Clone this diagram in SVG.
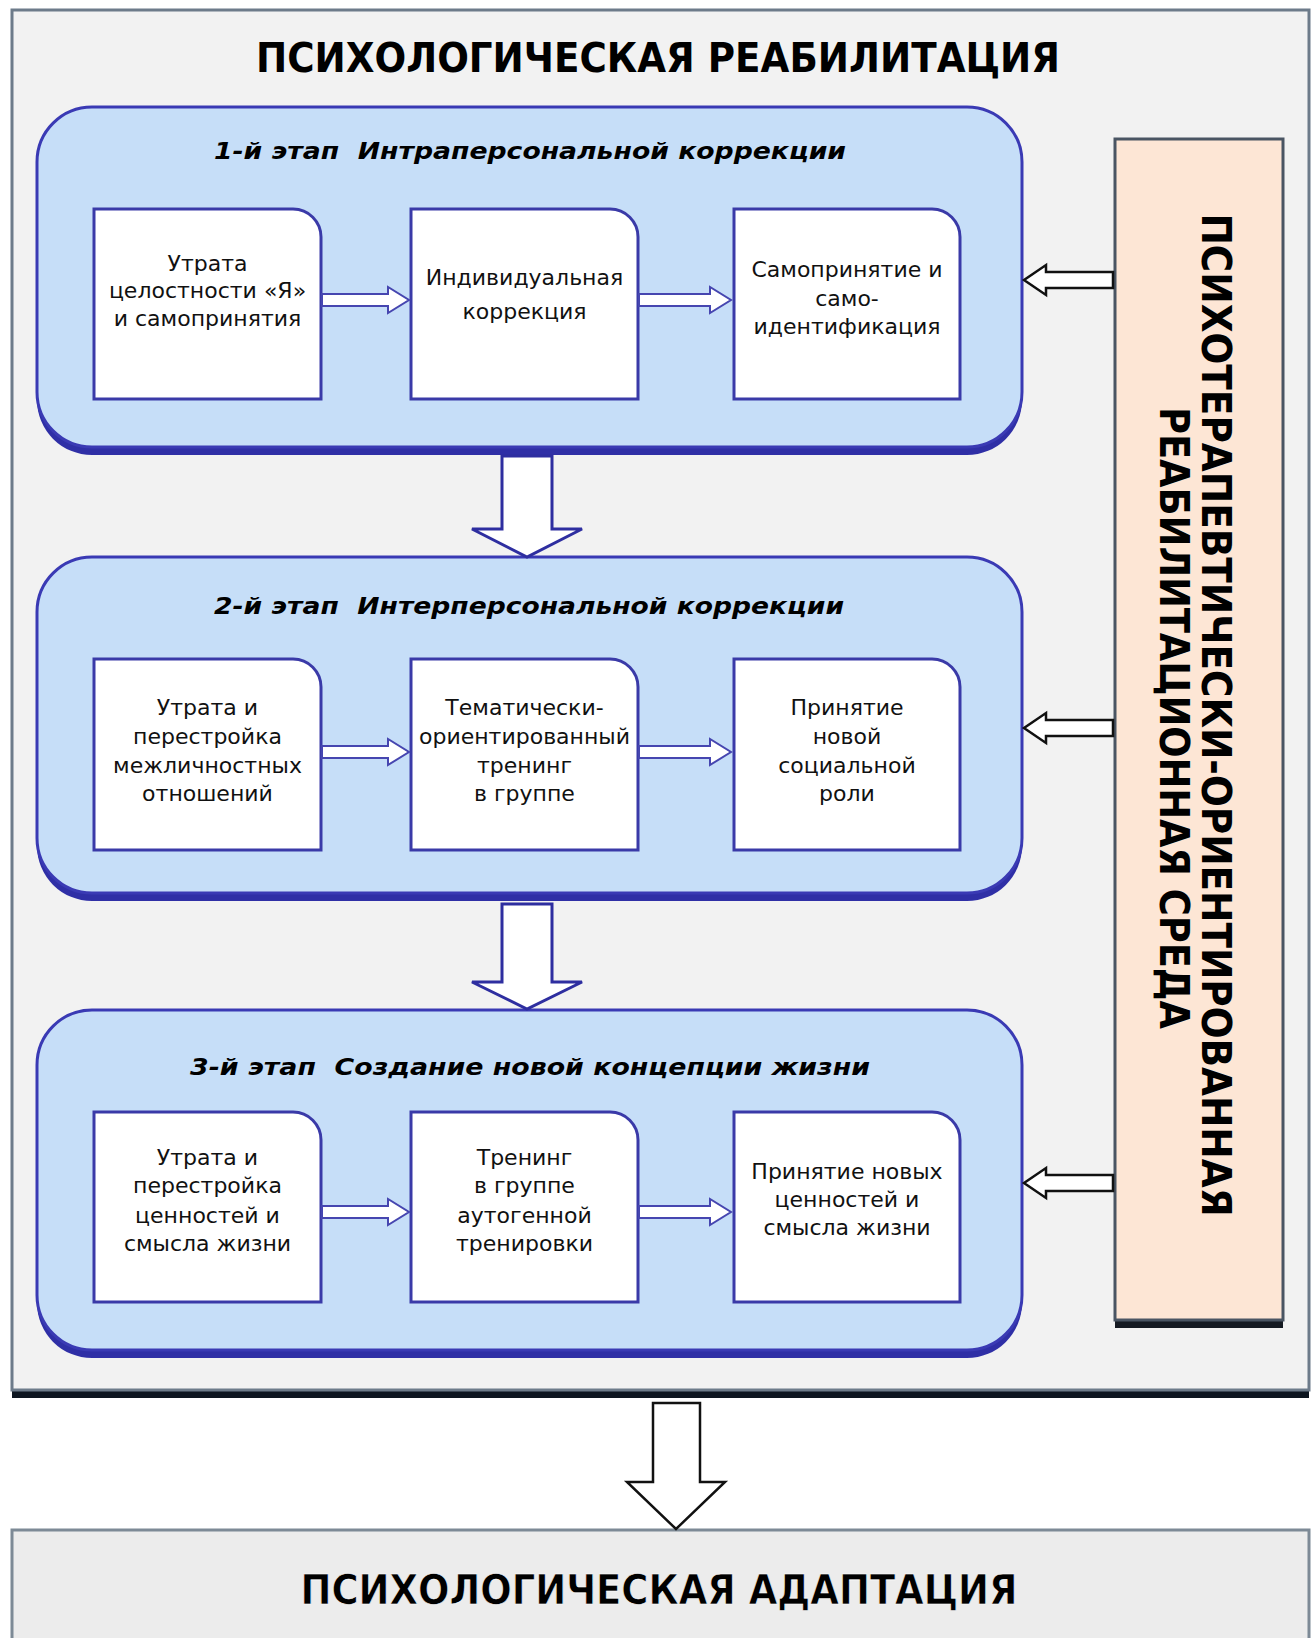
<svg xmlns="http://www.w3.org/2000/svg" width="1314" height="1638" viewBox="0 0 1314 1638">
<defs>
<style>
.frame{fill:#f2f2f2;stroke:#6d7b8a;stroke-width:3}
.fshadow{fill:#0d1520}
.panel{fill:#c6def8;stroke:#3a3ab4;stroke-width:3}
.pshadow{fill:#2f2fa6}
.box{fill:#ffffff;stroke:#3a3aa8;stroke-width:3}
.sarrow{fill:#ffffff;stroke:#4646b0;stroke-width:2;stroke-linejoin:miter}
.barrow{fill:#ffffff;stroke:#2e2ea0;stroke-width:3;stroke-linejoin:miter}
.karrow{fill:#ffffff;stroke:#111111;stroke-width:2.5;stroke-linejoin:miter}
.side{fill:#fde6d5;stroke:#4a5563;stroke-width:3}
.big{font-family:"DejaVu Sans","Liberation Sans",sans-serif;font-weight:bold;font-size:40px;fill:#000;text-anchor:middle}
.stage{font-family:"DejaVu Sans","Liberation Sans",sans-serif;font-weight:bold;font-style:italic;font-size:23px;fill:#000;text-anchor:middle}
.t{font-family:"DejaVu Sans","Liberation Sans",sans-serif;font-size:22px;fill:#111;text-anchor:middle}
</style>
</defs>
<rect width="1314" height="1638" fill="#ffffff"/>

<g id="frame">
<rect class="fshadow" x="12" y="18" width="1297" height="1380"/>
<rect class="frame" x="12" y="10" width="1297" height="1380"/>
<text class="big" x="658" y="72" textLength="804" lengthAdjust="spacingAndGlyphs">ПСИХОЛОГИЧЕСКАЯ РЕАБИЛИТАЦИЯ</text>
</g>

<g id="side-panel">
<rect x="1115" y="147" width="168" height="1181" fill="#151a22"/>
<rect class="side" x="1115" y="139" width="168" height="1181"/>
<text class="big" transform="translate(1202,715) rotate(90)" x="0" y="0" textLength="1003" lengthAdjust="spacingAndGlyphs">ПСИХОТЕРАПЕВТИЧЕСКИ-ОРИЕНТИРОВАННАЯ</text>
<text class="big" transform="translate(1160,718) rotate(90)" x="0" y="0" textLength="622" lengthAdjust="spacingAndGlyphs">РЕАБИЛИТАЦИОННАЯ СРЕДА</text>
</g>

<g id="stage1">
<rect class="pshadow" x="37" y="115" width="985" height="340" rx="55" ry="55"/>
<rect class="panel" x="37" y="107" width="985" height="340" rx="55" ry="55"/>
<text class="stage" x="530" y="159" xml:space="preserve" textLength="632" lengthAdjust="spacingAndGlyphs">1-й этап  Интраперсональной коррекции</text>
</g>
<g id="s1-box1">
<path class="box" d="M94,209 H293 A28,28 0 0 1 321,237 V399 H94 Z"/>
<text class="t" x="207.5" y="271">Утрата</text>
<text class="t" x="207.5" y="298">целостности «Я»</text>
<text class="t" x="207.5" y="326">и самопринятия</text>
</g>
<g id="s1-box2">
<path class="box" d="M411,209 H610 A28,28 0 0 1 638,237 V399 H411 Z"/>
<text class="t" x="524.5" y="285">Индивидуальная</text>
<text class="t" x="524.5" y="319">коррекция</text>
</g>
<g id="s1-box3">
<path class="box" d="M734,209 H932 A28,28 0 0 1 960,237 V399 H734 Z"/>
<text class="t" x="847" y="277">Самопринятие и</text>
<text class="t" x="847" y="306">само-</text>
<text class="t" x="847" y="334">идентификация</text>
</g>

<g id="stage2">
<rect class="pshadow" x="37" y="565" width="985" height="336" rx="55" ry="55"/>
<rect class="panel" x="37" y="557" width="985" height="336" rx="55" ry="55"/>
<text class="stage" x="529" y="614" xml:space="preserve" textLength="630" lengthAdjust="spacingAndGlyphs">2-й этап  Интерперсональной коррекции</text>
</g>
<g id="s2-box1">
<path class="box" d="M94,659 H293 A28,28 0 0 1 321,687 V850 H94 Z"/>
<text class="t" x="207.5" y="715">Утрата и</text>
<text class="t" x="207.5" y="744">перестройка</text>
<text class="t" x="207.5" y="773">межличностных</text>
<text class="t" x="207.5" y="801">отношений</text>
</g>
<g id="s2-box2">
<path class="box" d="M411,659 H610 A28,28 0 0 1 638,687 V850 H411 Z"/>
<text class="t" x="524.5" y="715">Тематически-</text>
<text class="t" x="524.5" y="744">ориентированный</text>
<text class="t" x="524.5" y="773">тренинг</text>
<text class="t" x="524.5" y="801">в группе</text>
</g>
<g id="s2-box3">
<path class="box" d="M734,659 H932 A28,28 0 0 1 960,687 V850 H734 Z"/>
<text class="t" x="847" y="715">Принятие</text>
<text class="t" x="847" y="744">новой</text>
<text class="t" x="847" y="773">социальной</text>
<text class="t" x="847" y="801">роли</text>
</g>

<g id="stage3">
<rect class="pshadow" x="37" y="1018" width="985" height="340" rx="55" ry="55"/>
<rect class="panel" x="37" y="1010" width="985" height="340" rx="55" ry="55"/>
<text class="stage" x="530" y="1075" xml:space="preserve" textLength="680" lengthAdjust="spacingAndGlyphs">3-й этап  Создание новой концепции жизни</text>
</g>
<g id="s3-box1">
<path class="box" d="M94,1112 H293 A28,28 0 0 1 321,1140 V1302 H94 Z"/>
<text class="t" x="207.5" y="1165">Утрата и</text>
<text class="t" x="207.5" y="1193">перестройка</text>
<text class="t" x="207.5" y="1223">ценностей и</text>
<text class="t" x="207.5" y="1251">смысла жизни</text>
</g>
<g id="s3-box2">
<path class="box" d="M411,1112 H610 A28,28 0 0 1 638,1140 V1302 H411 Z"/>
<text class="t" x="524.5" y="1165">Тренинг</text>
<text class="t" x="524.5" y="1193">в группе</text>
<text class="t" x="524.5" y="1223">аутогенной</text>
<text class="t" x="524.5" y="1251">тренировки</text>
</g>
<g id="s3-box3">
<path class="box" d="M734,1112 H932 A28,28 0 0 1 960,1140 V1302 H734 Z"/>
<text class="t" x="847" y="1179">Принятие новых</text>
<text class="t" x="847" y="1207">ценностей и</text>
<text class="t" x="847" y="1235">смысла жизни</text>
</g>

<g id="bottom-box">
<rect x="12" y="1530" width="1297" height="112" fill="#ececec" stroke="#7d8a96" stroke-width="3"/>
<text class="big" x="659" y="1604" textLength="717" lengthAdjust="spacingAndGlyphs" stroke="#ffffff" stroke-width="0.6">ПСИХОЛОГИЧЕСКАЯ АДАПТАЦИЯ</text>
</g>

<g id="connectors">
<!-- small arrows stage 1 -->
<path class="sarrow" d="M322,294 H388 V287 L409,300 L388,313 V306 H322 Z"/>
<path class="sarrow" d="M639,294 H710 V287 L731,300 L710,313 V306 H639 Z"/>
<!-- stage 2 -->
<path class="sarrow" d="M322,746 H388 V739 L409,752 L388,765 V758 H322 Z"/>
<path class="sarrow" d="M639,746 H710 V739 L731,752 L710,765 V758 H639 Z"/>
<!-- stage 3 -->
<path class="sarrow" d="M322,1206 H388 V1199 L409,1212 L388,1225 V1218 H322 Z"/>
<path class="sarrow" d="M639,1206 H710 V1199 L731,1212 L710,1225 V1218 H639 Z"/>
<!-- big down arrows between stages -->
<path class="barrow" d="M502,456 H552 V529 H582 L527,557 L472,529 H502 Z"/>
<path class="barrow" d="M502,904 H552 V982 H582 L527,1009 L472,982 H502 Z"/>
<!-- side panel arrows -->
<path class="karrow" d="M1113,272 H1046 V265 L1024,280 L1046,295 V288 H1113 Z"/>
<path class="karrow" d="M1113,720 H1046 V713 L1024,728 L1046,743 V736 H1113 Z"/>
<path class="karrow" d="M1113,1175 H1046 V1168 L1024,1183 L1046,1198 V1191 H1113 Z"/>
<!-- bottom arrow -->
<path class="karrow" d="M653,1403 H700 V1482 H725 L676,1529 L627,1482 H653 Z"/>
</g>
</svg>
